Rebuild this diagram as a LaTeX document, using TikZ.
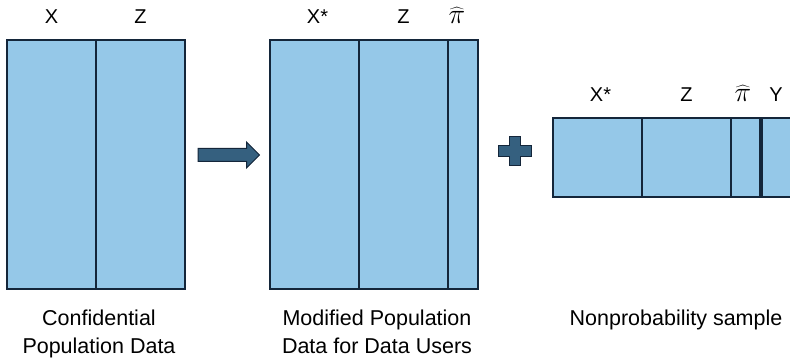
\documentclass[tikz,border=0pt]{standalone}
\usepackage{fontspec}
\setmainfont{Liberation Sans}
\usetikzlibrary{positioning}
\definecolor{cellblue}{HTML}{95C8E8}
\definecolor{edgenavy}{HTML}{14263A}
\definecolor{shapeblue}{HTML}{35607F}

\begin{document}
\begin{tikzpicture}[x=1pt, y=-1pt,
  node distance=0pt,
  col/.style={draw=edgenavy, fill=cellblue, line width=1.4pt, minimum width=89pt, inner sep=0pt, outer sep=0pt},
  narrowcol/.style={col, minimum width=30pt},
  head/.style={font=\fontsize{20}{24}\selectfont, anchor=base},
  pihead/.style={head, scale=1.35},
  caption/.style={font=\fontsize{21.5}{28}\selectfont, align=center, anchor=north, inner sep=0pt},
  block/.style={fill=shapeblue, draw=edgenavy, line width=1pt, line join=miter}
]
\clip (0,0) rectangle (790,358);
% confidential population data
\node[col, minimum height=249pt, anchor=north west] (cx) at (7,40) {};
\node[col, minimum height=249pt, right=of cx] (cz) {};
\node[head] (hcx) at ([yshift=16pt]cx.north) {X};
\node[head] (hcz) at ([yshift=16pt]cz.north) {Z};
% modified population data
\node[col, minimum height=249pt, anchor=north west] (mx) at (270,40) {};
\node[col, minimum height=249pt, right=of mx] (mz) {};
\node[narrowcol, minimum height=249pt, right=of mz] (mp) {};
\node[head] (hmx) at ([xshift=3pt, yshift=16pt]mx.north) {X*};
\node[head] (hmz) at ([yshift=16pt]mz.north) {Z};
\node[pihead] (hmp) at ([xshift=-6pt, yshift=16pt]mp.north) {$\widehat{\pi}$};
% nonprobability sample
\node[col, minimum height=79pt, anchor=north west] (sx) at (553,118) {};
\node[col, minimum height=79pt, right=of sx] (sz) {};
\node[narrowcol, minimum height=79pt, right=of sz] (sp) {};
\node[narrowcol, minimum height=79pt, right=of sp] (sy) {};
\draw[edgenavy, line width=3.5pt] (sp.north east) -- (sp.south east);
\node[head] (hsx) at ([xshift=3pt, yshift=16pt]sx.north) {X*};
\node[head] (hsz) at ([yshift=16pt]sz.north) {Z};
\node[pihead] (hsp) at ([xshift=-3pt, yshift=16pt]sp.north) {$\widehat{\pi}$};
\node[head] (hsy) at ([yshift=16pt]sy.north) {Y};
% block arrow and plus
\coordinate (arrowtail) at (198,155);
\draw[block] (arrowtail) ++(0,-6.5) -- ++(48.5,0) -- ++(0,-6.5) -- ++(13,13) -- ++(-13,13) -- ++(0,-6.5) -- ++(-48.5,0) -- cycle;
\draw[block] (509,136.7) -- (520.7,136.7) -- (520.7,145.7) -- (531.3,145.7) -- (531.3,156.7) -- (520.7,156.7)
  -- (520.7,165.7) -- (509,165.7) -- (509,156.7) -- (498,156.7) -- (498,145.7) -- (509,145.7) -- cycle;
% captions
\node[caption] (capc) at (99,310) {Confidential\\Population Data};
\node[caption] (capm) at (377,310) {Modified Population\\Data for Data Users};
\node[caption] (caps) at (676,310) {Nonprobability sample};
\end{tikzpicture}
\end{document}
